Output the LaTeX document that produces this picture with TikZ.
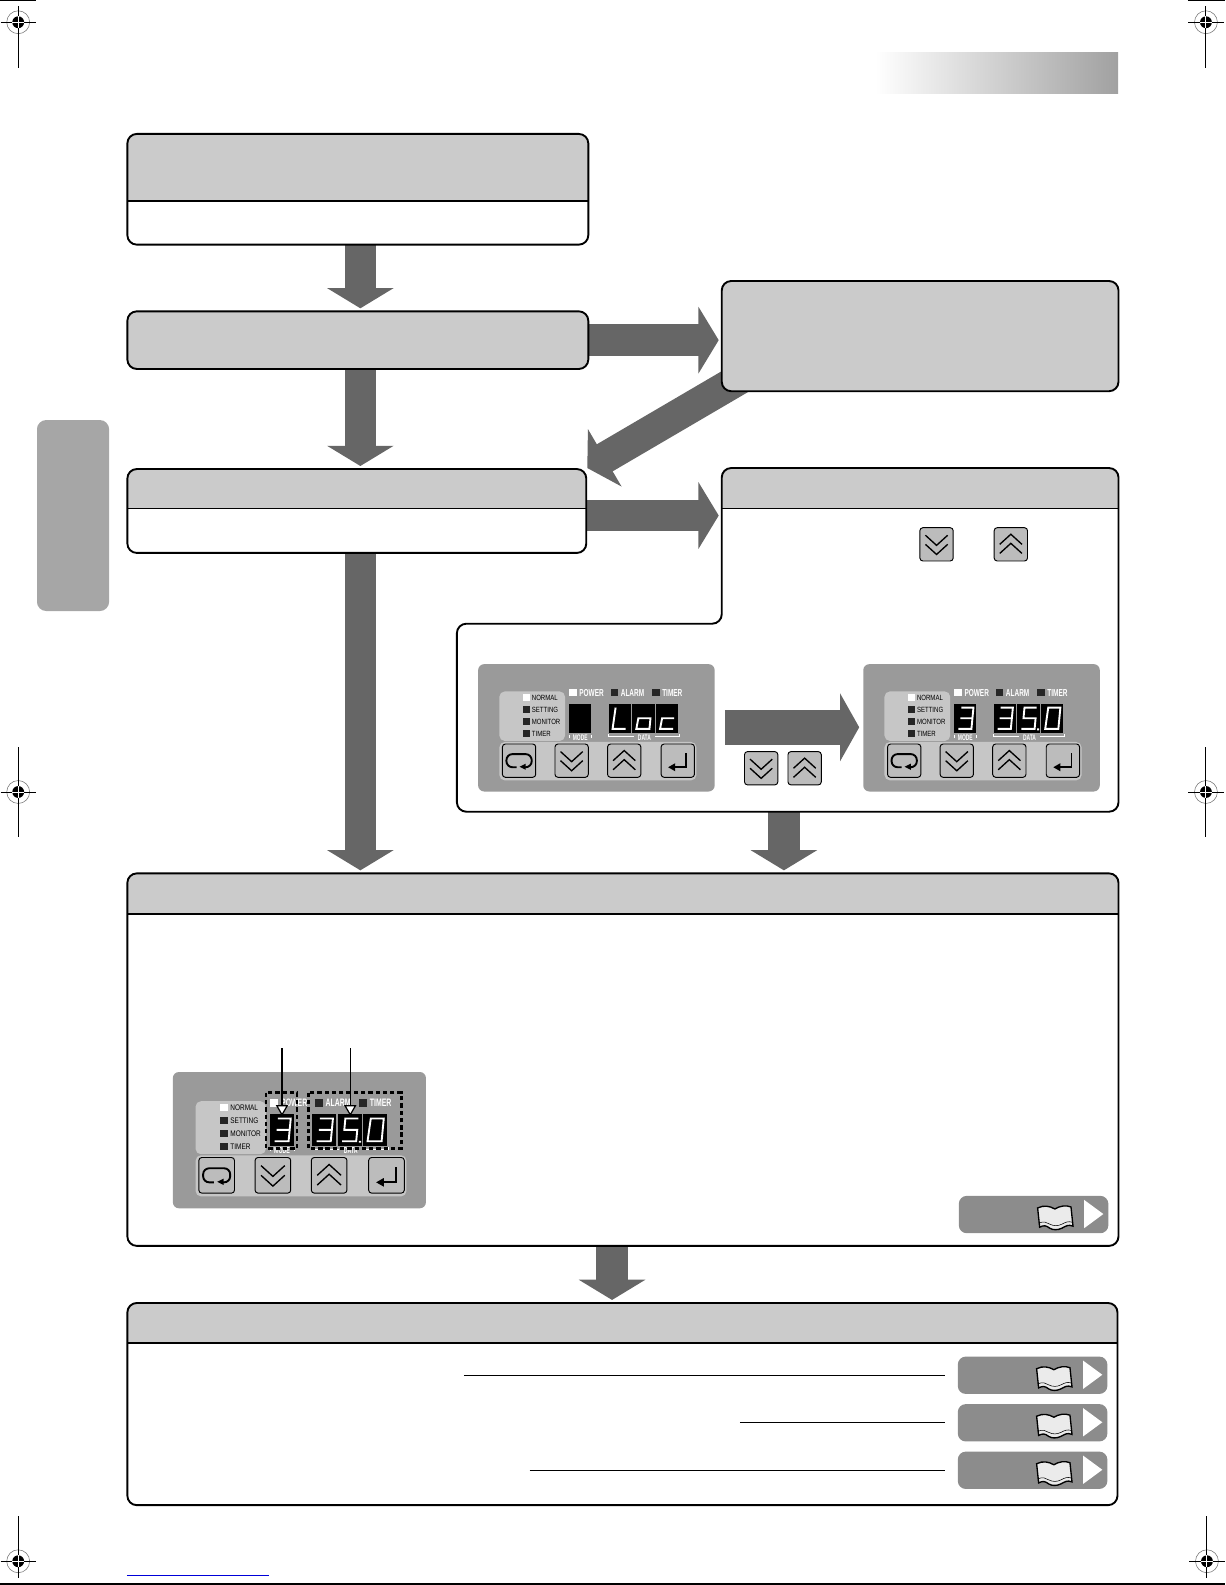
\documentclass[tikz,border=0pt]{standalone}
\usepackage{fontspec}
\setmainfont{Liberation Sans}
\usetikzlibrary{arrows.meta,fit}
\definecolor{headgray}{HTML}{CBCBCB}
\definecolor{arrowgray}{HTML}{666666}
\definecolor{panelgray}{HTML}{9A9A9A}
\definecolor{patchgray}{HTML}{C6C6C6}
\definecolor{keygray}{HTML}{BCBCBC}
\definecolor{taggray}{HTML}{8C8C8C}
\definecolor{tabgray}{HTML}{A6A6A6}
\begin{document}
\begin{tikzpicture}[x=0.75pt,y=-0.75pt]
\useasboundingbox (0,0) rectangle (1212,1568);
\tikzset{outerbox/.style = {draw = black, line width = 1.4pt, rounded corners = 7pt, inner sep = 0pt, outer sep = 0pt}}
\tikzset{blockarrow/.style = {draw = arrowgray, line width = 23.25pt, -{Triangle[width=48.75pt,length=15pt]}, shorten >=2.25pt}}
\tikzset{stagearrow/.style = {draw = arrowgray, line width = 26pt, -{Triangle[width=50pt,length=14.25pt]}}}
\tikzset{keycap/.style = {draw = black, fill = keygray, line width = 0.7pt, rounded corners = 2.2pt, minimum size = 24.7pt, inner sep = 0pt, transform shape}}
\tikzset{iconline/.style = {black, line width = 1pt}}
\tikzset{segline/.style = {white, line width = 1.4pt, line join = miter}}
\tikzset{ledtext/.style = {anchor = west, inner sep = 0pt, text = black, font = \fontsize{5.6}{6}\selectfont, xscale = .8, transform shape}}
\tikzset{lamptext/.style = {ledtext, text = white, font = \bfseries\fontsize{7.5}{8}\selectfont, xscale = .8}}
\tikzset{tinytext/.style = {lamptext, anchor = center, font = \bfseries\fontsize{6}{6}\selectfont, xscale = .95}}
\tikzset{leadline/.style = {black, line width = 0.7pt}}
\tikzset{calloutline/.style = {black, line width = 0.9pt, -{Triangle[open,fill=white,width=9pt,length=8pt]}}}
\tikzset{dashbox/.style = {black, line width = 1.9pt, dash pattern = on 3.2pt off 2.2pt}}

% seven segment shapes, one cell
\def\segnone{}
\def\segL{(7,4) -- (4,25) -- (17,25)}
\def\sego{(6,14.5) -- (18,14.5) -- (17,25) -- (4,25) -- cycle}
\def\segc{(18,14.5) -- (6,14.5) -- (4,25) -- (17,25)}
\def\segthree{(7,4) -- (19,4) -- (17,25) -- (4,25) (6,14.5) -- (18,14.5)}
\def\segfive{(19,4) -- (7,4) -- (6,14.5) -- (18,14.5) -- (17,25) -- (4,25) (19.5,25.5) -- (21.5,25.5)}
\def\segzero{(7,4) -- (19,4) -- (17,25) -- (4,25) -- cycle}

\def\keydown#1#2#3{
   \node[keycap] (#1) at (#2,#3) {};
   \draw[iconline,shift={(#2,#3)}] (-11,-9) -- (0,1) -- (11,-9) (-11,0) -- (0,10) -- (11,0);
}
\def\keyup#1#2#3{
   \node[keycap] (#1) at (#2,#3) {};
   \draw[iconline,shift={(#2,#3)}] (-11,9) -- (0,-1) -- (11,9) (-11,0) -- (0,-10) -- (11,0);
}
\def\ctlpanel#1#2#3#4#5#6#7#8{
\begin{scope}[shift={(#2,#3)},scale=#4]
   \fill[panelgray,rounded corners=4.5pt] (0,0) rectangle (234,126);
   \fill[patchgray,rounded corners=4pt] (21,27) rectangle (86,76);
   \fill[white] (44,29.5) rectangle (51,36.5);
   \fill[black!85] (44,41.5) rectangle (51,48.5);
   \fill[black!85] (44,53.5) rectangle (51,60.5);
   \fill[black!85] (44,65.5) rectangle (51,72.5);
   \node[ledtext] (#1normal) at (53,33) {NORMAL};
   \node[ledtext] (#1setting) at (53,45) {SETTING};
   \node[ledtext] (#1monitor) at (53,57) {MONITOR};
   \node[ledtext] (#1timer) at (53,69) {TIMER};
   \fill[white] (90,25) rectangle (97.5,32);
   \fill[black!85] (131,25) rectangle (138.5,32);
   \fill[black!85] (172,25) rectangle (179.5,32);
   \node[lamptext] (#1power) at (100,28.5) {POWER};
   \node[lamptext] (#1alarm) at (141,28.5) {ALARM};
   \node[lamptext] (#1lamp) at (182,28.5) {TIMER};
   \fill[black] (90,39) rectangle (112,68);
   \fill[black] (129,39) rectangle (151,68);
   \fill[black] (152.5,39) rectangle (174.5,68);
   \fill[black] (176,39) rectangle (198,68);
   \draw[segline,shift={(90,39)}] #5;
   \draw[segline,shift={(129,39)}] #6;
   \draw[segline,shift={(152.5,39)}] #7;
   \draw[segline,shift={(176,39)}] #8;
   \draw[white,line width=.7pt] (90,70) -- (90,73) (112,70) -- (112,73);
   \draw[white,line width=.7pt] (129,69) -- (129,72) -- (154,72) (175,72) -- (199,72) -- (199,69);
   \node[tinytext] (#1mode) at (101,72.5) {MODE};
   \node[tinytext] (#1data) at (164.5,72.5) {DATA};
   \fill[patchgray,rounded corners=4pt] (21,77) rectangle (216,115);
   \node[keycap] (#1back) at (40.5,95.5) {};
   \draw[iconline,line width=1.4pt,rounded corners=4.5pt] (45,102) -- (53,102) -- (53,89) -- (28,89) -- (28,102) -- (38,102);
   \fill[black] (47,98.5) -- (47,104.5) -- (41,101.5) -- cycle;
   \keydown{#1dn}{92.5}{95.5}
   \keyup{#1up}{144.5}{95.5}
   \node[keycap] (#1enter) at (197.5,95.5) {};
   \draw[iconline,line width=1.4pt] (206,88) -- (206,102) -- (193,102);
   \fill[black] (195,98) -- (195,106) -- (188,102) -- cycle;
\end{scope}
}
\def\reftag#1#2#3{
   \node[fill = taggray, rounded corners = 6pt, minimum width = 111pt, minimum height = 27.75pt, inner sep = 0pt] (#1) at (#2+74,#3+18.5) {};
   \fill[white,shift={(#2,#3)}] (124,4) -- (124,32) -- (143,18) -- cycle;
   \draw[black,fill=white!92!black,line width=1pt,shift={(#2,#3)}] (78,12) .. controls (84,9) and (90,10) .. (95,13) .. controls (100,10) and (106,9) .. (111,11) -- (113,30) .. controls (108,28) and (106,30) .. (102,32) .. controls (98,34) and (93,34) .. (90,32) .. controls (86,29) and (84,29) .. (80,31) -- cycle;
   \draw[black,line width=.4pt,shift={(#2,#3)}] (79,27) .. controls (84,25) and (87,26) .. (90,28) .. controls (94,30) and (98,30) .. (102,28) .. controls (106,26) and (108,25) .. (112,26);
}
\def\cropmark#1#2#3#4#5{
   \node[draw = black!55, line width = .4pt, circle, minimum size = 17pt, inner sep = 0pt] (#1) at (#2,#3) {};
   \fill[black] (#2,#3) circle (4.4pt);
   \draw[black,line width=.7pt] (#2,#4) -- (#2,#5) (#2-17.5,#3) -- (#2+17.5,#3);
   \draw[white,line width=.7pt] (#2,#3-6) -- (#2,#3+6) (#2-6,#3) -- (#2+6,#3);
}
\def\headfill#1#2#3#4#5{
\begin{scope}
   \clip (#1,#2) rectangle (#3,#5);
   \fill[headgray,rounded corners=7pt] (#1,#2) rectangle (#3,#4);
\end{scope}
   \draw[black,line width=1.4pt] (#1,#5) -- (#3,#5);
}

% page furniture
\fill[tabgray,rounded corners=7pt] (36.5,415.5) -- (108,415.5) -- (108,604.5) -- (36.5,604.5) -- (36.5,560) -- cycle;
\fill[white] (30,400) rectangle (36.5,620);
\shade[left color=white,right color=black!37] (866,52) rectangle (1106,92);
\draw[black,line width=.8pt] (0,.5) -- (36,.5) (1175,.5) -- (1212,.5) (0,1567) -- (1212,1567);
\draw[blue!85!black,line width=.8pt] (125.5,1558.5) -- (266,1558.5);
\cropmark{cropa}{18}{22}{6}{67}
\cropmark{cropb}{1193}{22}{6}{67}
\cropmark{cropc}{18}{783.5}{739}{828}
\cropmark{cropd}{1193}{783.5}{739}{828}
\cropmark{crope}{18}{1544.5}{1500}{1561}
\cropmark{cropf}{1194}{1544.5}{1500}{1561}

% boxes come after the arrows, the slanted one tucks under
\coordinate (trunk) at (356.5,0);
\coordinate (sideout) at (580,510);
\coordinate (sidein) at (714,510);
\coordinate (backfrom) at (733,374);
\coordinate (backto) at (581,463);
\coordinate (stepfrom) at (717,719.5);
\coordinate (stepto) at (850,719.5);
\coordinate (lboxout) at (775.5,803);
\coordinate (midrun) at (605.5,0);
\node[outerbox,draw=none,fit={(126,132.5) (582,242)}] (boxa) {};
\node[outerbox,draw=none,fit={(126,308) (582,365)}] (boxb) {};
\node[outerbox,draw=none,fit={(714,278) (1106.5,387)}] (boxc) {};
\node[outerbox,draw=none,fit={(126,464) (580,547)}] (boxd) {};
\node[outerbox,draw=none,fit={(126,864) (1106.5,1232.5)}] (boxe) {};
\node[outerbox,draw=none,fit={(126,1289) (1105.5,1489)}] (boxf) {};

\draw[blockarrow] (trunk |- boxa.south) -- (trunk |- boxb.north);
\draw[blockarrow] (trunk |- boxb.south) -- (trunk |- boxd.north);
\draw[blockarrow] (trunk |- boxd.south) -- (trunk |- boxe.north);
\draw[blockarrow] (boxb.east) -- (boxb.east -| boxc.west);
\draw[blockarrow] (sideout) -- (sidein);
\draw[blockarrow,shorten >=0pt] (backfrom) -- (backto);
\draw[blockarrow] (lboxout) -- (lboxout |- boxe.north);
\draw[blockarrow] (midrun |- boxe.south) -- (midrun |- boxf.north);

\headfill{126}{132.5}{582}{242}{199}
\fill[headgray,rounded corners=7pt] (126,308) rectangle (582,365);
\fill[headgray,rounded corners=7pt] (714,278) rectangle (1106.5,387);
\headfill{126}{464}{580}{547}{503}
\headfill{714}{463}{1106.5}{560}{503}
\headfill{126}{864}{1106.5}{1232.5}{904}
\headfill{126}{1289}{1105.5}{1489}{1329}
\draw[outerbox] (boxa.south west) rectangle (boxa.north east);
\draw[outerbox] (boxb.south west) rectangle (boxb.north east);
\draw[outerbox] (boxc.south west) rectangle (boxc.north east);
\draw[outerbox] (boxd.south west) rectangle (boxd.north east);
\draw[outerbox] (boxe.south west) rectangle (boxe.north east);
\draw[outerbox] (boxf.south west) rectangle (boxf.north east);
\draw[black,line width=1.4pt,rounded corners=7pt] (714,520) -- (714,463) -- (1106.5,463) -- (1106.5,803) -- (452,803) -- (452,617) -- (714,617) -- cycle;

\keydown{keya}{926.5}{538.5}
\keyup{keyb}{1000}{538.5}
\keydown{keyc}{753}{760}
\keyup{keyd}{796}{760}

\ctlpanel{pa}{473}{657}{1}{\segnone}{\segL}{\sego}{\segc}
\ctlpanel{pb}{854}{657}{1}{\segthree}{\segthree}{\segfive}{\segzero}
\draw[stagearrow] (stepfrom) -- (stepto);

\ctlpanel{pc}{171}{1060.5}{1.07}{\segthree}{\segthree}{\segfive}{\segzero}
\draw[dashbox] (263,1081) rectangle (294,1136);
\draw[dashbox] (305,1081) rectangle (397,1136);
\coordinate (modefrom) at (279,1037);
\coordinate (modeto) at (279,1104);
\coordinate (datafrom) at (346.5,1037);
\coordinate (datato) at (346.5,1104);
\draw[calloutline] (modefrom) -- (modeto);
\draw[calloutline] (datafrom) -- (datato);

\reftag{taga}{948.5}{1183}
\reftag{tagb}{947.5}{1342}
\reftag{tagc}{947.5}{1389}
\reftag{tagd}{947.5}{1436}

\coordinate (leada) at (459,1361);
\coordinate (leadb) at (935,1361);
\coordinate (leadc) at (732,1407);
\coordinate (leadd) at (935,1407);
\coordinate (leade) at (524,1455);
\coordinate (leadf) at (935,1455);
\draw[leadline] (leada) -- (leadb);
\draw[leadline] (leadc) -- (leadd);
\draw[leadline] (leade) -- (leadf);
\end{tikzpicture}
\end{document}
